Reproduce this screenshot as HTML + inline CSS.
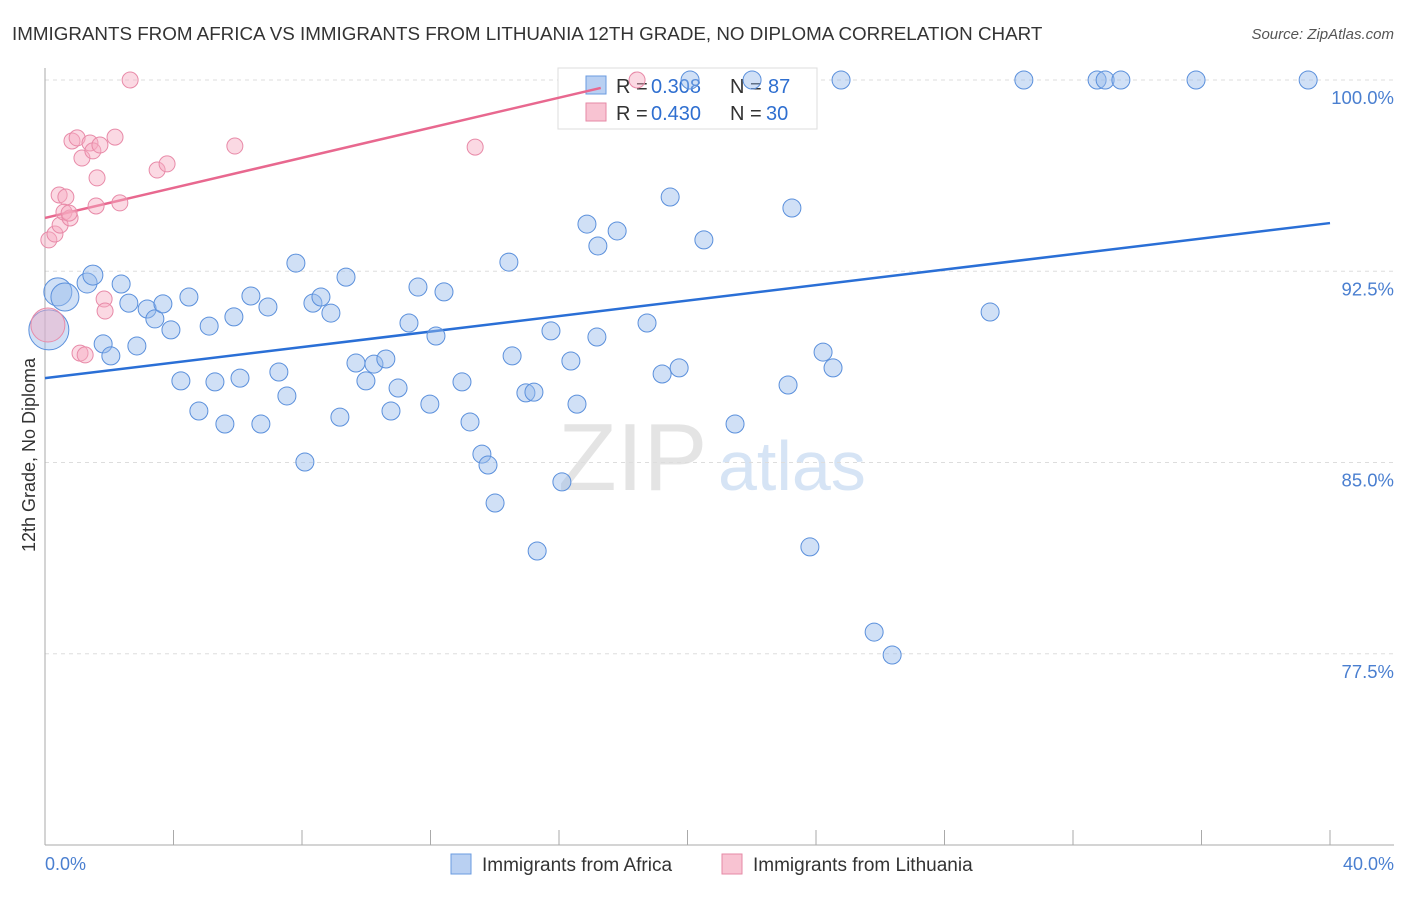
<!DOCTYPE html>
<html><head><meta charset="utf-8"><style>
body{margin:0;background:#fff;font-family:"Liberation Sans",sans-serif;}
svg text{font-family:"Liberation Sans",sans-serif;}
</style></head><body>
<svg id="chart" width="1406" height="892">
<text x="12" y="40" font-size="18.8" fill="#333">IMMIGRANTS FROM AFRICA VS IMMIGRANTS FROM LITHUANIA 12TH GRADE, NO DIPLOMA CORRELATION CHART</text>
<text x="1394" y="39" font-size="15" fill="#555" text-anchor="end" font-style="italic">Source: ZipAtlas.com</text>
<text x="558" y="490" font-size="96" fill="#e4e4e4" font-family="Liberation Serif">ZIP</text>
<text x="718" y="490" font-size="70" fill="#d6e4f5">atlas</text>
<g id="grid"></g><g id="axes"></g>
<g>
<rect x="558" y="68" width="259" height="61" fill="#fff" stroke="#ddd"/>
<rect x="586" y="76" width="20" height="18" fill="#b9d0f2" stroke="#6a9be0"/>
<rect x="586" y="103" width="20" height="18" fill="#f8c3d2" stroke="#e68aa6"/>
<text x="616" y="93" font-size="20" fill="#333">R =</text>
<text x="651" y="93" font-size="20" fill="#2f6fd0">0.308</text>
<text x="730" y="93" font-size="20" fill="#333">N =</text>
<text x="768" y="93" font-size="20" fill="#2f6fd0">87</text>
<text x="616" y="120" font-size="20" fill="#333">R =</text>
<text x="651" y="120" font-size="20" fill="#2f6fd0">0.430</text>
<text x="730" y="120" font-size="20" fill="#333">N =</text>
<text x="766" y="120" font-size="20" fill="#2f6fd0">30</text>
</g>
<g id="lines"></g><g id="pts"></g>
<text transform="translate(35,455) rotate(-90)" font-size="18" fill="#333" text-anchor="middle">12th Grade, No Diploma</text>
<text x="45" y="870" font-size="18" fill="#4a7fd0">0.0%</text>
<text x="1394" y="870" font-size="18" fill="#4a7fd0" text-anchor="end">40.0%</text>
<g>
<rect x="451" y="854" width="20" height="20" fill="#b9d0f2" stroke="#6a9be0"/>
<text x="482" y="871" font-size="19" fill="#333">Immigrants from Africa</text>
<rect x="722" y="854" width="20" height="20" fill="#f8c3d2" stroke="#e68aa6"/>
<text x="753" y="871" font-size="19" fill="#333">Immigrants from Lithuania</text>
</g>
</svg>
<script>
const yTicks=[100,92.5,85,77.5];
const yTickLabels=["100.0%","92.5%","85.0%","77.5%"];
const xTicks=[0,4,8,12,16,20,24,28,32,36,40];
const africaX=[0.40,0.62,1.31,1.49,2.37,1.81,2.05,2.86,2.61,3.18,3.42,3.67,3.92,4.48,4.23,4.79,5.11,5.29,5.60,5.88,6.07,6.41,6.72,6.94,7.28,7.53,7.81,8.09,8.34,8.59,8.90,9.18,9.37,9.68,9.99,10.24,10.61,10.77,10.99,11.33,11.61,11.98,12.17,12.42,12.98,13.23,13.60,13.79,14.01,14.44,14.54,14.97,15.22,15.32,15.75,16.09,16.37,16.56,16.87,17.18,17.21,17.81,18.74,19.21,19.46,19.74,20.51,21.48,22.01,23.13,23.25,23.81,24.22,24.53,24.78,25.81,26.37,29.42,30.47,32.75,33.00,33.49,35.83,39.32,0.12,20.08];
const africaY=[91.69,91.49,92.04,92.35,92.00,89.65,89.18,89.57,91.25,91.02,90.63,91.22,90.20,91.49,88.20,87.02,90.35,88.16,86.51,90.71,88.31,91.53,86.51,91.10,88.55,87.61,92.82,85.02,91.25,91.49,90.86,86.78,92.27,88.90,88.20,88.86,89.06,87.02,87.92,90.47,91.88,87.29,89.96,91.69,88.16,86.59,85.33,84.90,83.41,92.86,89.18,87.73,87.76,81.53,90.16,84.24,88.98,87.29,94.35,89.92,93.49,94.08,90.47,88.47,95.41,88.71,93.73,86.51,100,88.04,94.98,81.69,89.33,88.71,100,78.35,77.45,90.90,100,100,100,100,100,100,90.20,100];
const africaR=[14,14,10,10,9,9,9,9,9,9,9,9,9,9,9,9,9,9,9,9,9,9,9,9,9,9,9,9,9,9,9,9,9,9,9,9,9,9,9,9,9,9,9,9,9,9,9,9,9,9,9,9,9,9,9,9,9,9,9,9,9,9,9,9,9,9,9,9,9,9,9,9,9,9,9,9,9,9,9,9,9,9,9,9,20,9];
const lithX=[0.09,0.12,0.31,0.47,0.44,0.65,0.59,0.78,0.75,0.84,1.00,1.15,1.40,1.49,1.62,1.59,1.71,2.18,2.33,1.84,1.87,1.09,1.25,2.65,3.49,3.80,5.91,13.39,18.43];
const lithY=[90.39,93.73,93.96,94.31,95.49,95.41,94.82,94.59,94.78,97.61,97.73,96.94,97.53,97.22,96.16,95.06,97.45,97.76,95.18,91.41,90.94,89.29,89.22,100,96.47,96.71,97.41,97.37,100];
const lithR=[17,8,8,8,8,8,8,8,8,8,8,8,8,8,8,8,8,8,8,8,8,8,8,8,8,8,8,8,8];
const africaTrend=[[0,88.31],[40,94.39]];
const lithTrend=[[0,94.59],[17.3,99.69]];
const NS="http://www.w3.org/2000/svg";
const X=v=>45+v*32.125, Y=v=>80+(100-v)*25.5;
function mk(t,a,p){const e=document.createElementNS(NS,t);for(const k in a)e.setAttribute(k,a[k]);document.getElementById(p).appendChild(e);return e;}
yTicks.forEach((t,i)=>{
 const g=mk('line',{x1:45,x2:1394,y1:Y(t),y2:Y(t),stroke:'#ddd','stroke-dasharray':'4,4'},'grid');
 
 
 const l=mk('text',{x:1394,y:Y(t)+24,'font-size':18.5,fill:'#4a7fd0','text-anchor':'end'},'grid');l.textContent=yTickLabels[i];
 
 
});
const ax=mk('line',{x1:45,x2:45,y1:68,y2:845,stroke:'#aaa'},'axes');


const bx=mk('line',{x1:45,x2:1394,y1:845,y2:845,stroke:'#aaa'},'axes');


xTicks.forEach(t=>{const e=mk('line',{x1:X(t),x2:X(t),y1:830,y2:845,stroke:'#aaa'},'axes');
 
 });
function pts(xs,ys,rs,fill,stroke,name){xs.forEach((x,i)=>{const c=mk('circle',{cx:X(x),cy:Y(ys[i]),r:rs[i],fill:fill,stroke:stroke,'stroke-width':1},'pts');
 
 });}
pts(africaX,africaY,africaR,'rgba(150,186,236,0.45)','#5b90dc','africa-point');
pts(lithX,lithY,lithR,'rgba(246,170,192,0.45)','#e88aa8','lithuania-point');
const t1=mk('line',{x1:X(africaTrend[0][0]),y1:Y(africaTrend[0][1]),x2:X(africaTrend[1][0]),y2:Y(africaTrend[1][1]),stroke:'#2a6fd6','stroke-width':2.5},'lines');


const t2=mk('line',{x1:X(lithTrend[0][0]),y1:Y(lithTrend[0][1]),x2:X(lithTrend[1][0]),y2:Y(lithTrend[1][1]),stroke:'#e8688f','stroke-width':2.5},'lines');


</script>
</body></html>
